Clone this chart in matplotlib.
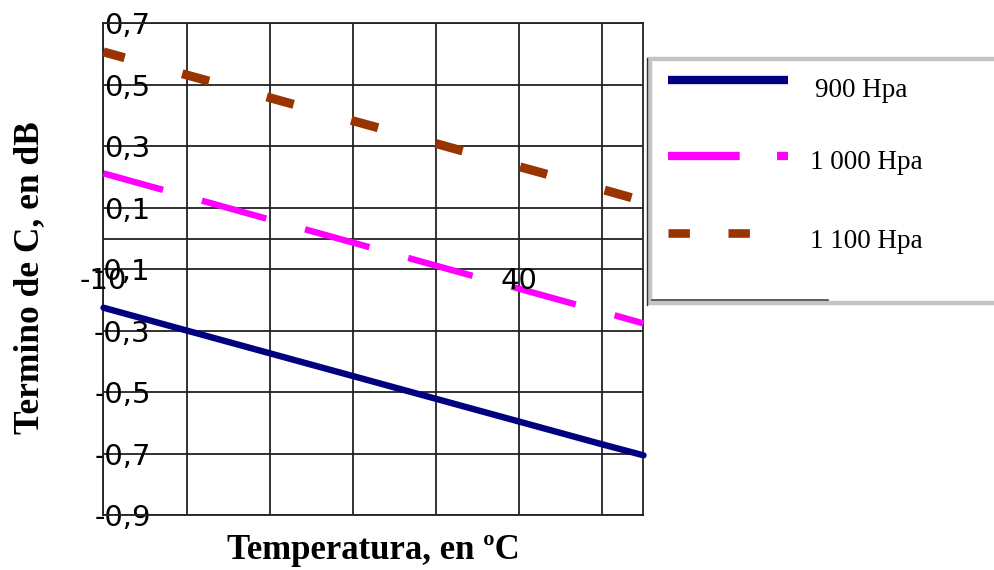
import matplotlib
matplotlib.use("Agg")
import matplotlib.pyplot as plt
from matplotlib.lines import Line2D
from matplotlib.patches import Rectangle

plt.rcParams['lines.scale_dashes'] = False

# ---------------- data ----------------
temps = [-10, 0, 10, 20, 30, 40, 50, 55]
c_900 = [-0.225, -0.299, -0.373, -0.447, -0.521, -0.595, -0.669, -0.705]
c_1000 = [0.212, 0.137, 0.062, -0.013, -0.088, -0.163, -0.238, -0.276]
c_1100 = [0.607, 0.532, 0.458, 0.383, 0.309, 0.234, 0.160, 0.122]

series_names = ['900 Hpa', '1 000 Hpa', '1 100 Hpa']
ytick_vals = [0.7, 0.5, 0.3, 0.1, 0.0, -0.1, -0.3, -0.5, -0.7, -0.9]
ytick_labels = ['0,7', '0,5', '0,3', '0,1', '', '-0,1', '-0,3', '-0,5', '-0,7', '-0,9']
xgrid_vals = [-10, 0, 10, 20, 30, 40, 50]
xlabel_vals = [-10, 40]
xlabel_texts = ['-10', '40']

# ---------------- figure ----------------
W, H = 995, 570
fig = plt.figure(figsize=(W / 100, H / 100), dpi=100)
fig.patch.set_facecolor('white')


def fx(px):
    return px / W


def fy(py):
    return 1 - py / H


left, right, top, bottom = 103.5, 643.5, 23.3, 515.3
ax = fig.add_axes([fx(left), fy(bottom), (right - left) / W, (bottom - top) / H])
ax.set_xlim(-10, 55)
ax.set_ylim(-0.9, 0.7)

gridc = '#222222'
ax.set_xticks(xgrid_vals)
ax.set_xticklabels([''] * len(xgrid_vals))
ax.set_yticks(ytick_vals)
ax.set_yticklabels(ytick_labels, fontfamily='DejaVu Sans', fontsize=21)
ax.tick_params(axis='x', length=0)
ax.tick_params(axis='y', length=0, pad=-34)
ax.grid(True, color=gridc, lw=1.3)
ax.set_axisbelow(True)
for s in ax.spines.values():
    s.set_color(gridc)
    s.set_linewidth(1.3)

for xv, xt in zip(xlabel_vals, xlabel_texts):
    ax.text(xv, -0.139, xt, ha='center', va='center', fontfamily='DejaVu Sans',
            fontsize=21, zorder=6)

# series
ax.plot(temps, c_900, color='#000080', lw=4.6, solid_capstyle='round',
        clip_on=False, zorder=4)
ax.plot(temps, c_1000, color='#FF00FF', lw=4.6, linestyle=(3.6, (48.1, 29.0)),
        dash_capstyle='butt', clip_on=False, zorder=4)
ax.plot(temps, c_1100, color='#993300', lw=6.5, linestyle=(4.3, (20.1, 43.0)),
        dash_capstyle='butt', clip_on=False, zorder=4)

# axis titles
fig.text(fx(373.5), fy(559), 'Temperatura, en ºC', ha='center', va='baseline',
         fontfamily='Liberation Serif', fontweight='bold', fontsize=25)
fig.text(fx(30), fy(277.5), 'Termino de C, en dB', ha='center', va='center',
         rotation=90, fontfamily='Liberation Serif', fontweight='bold', fontsize=25.5)

# ---------------- legend ----------------
tf = fig.transFigure
fig.add_artist(Rectangle((fx(650.5), fy(303)), fx(1010) - fx(650.5), fy(59) - fy(303),
                         transform=tf, facecolor='white', edgecolor='#c4c4c4',
                         lw=3.2, zorder=10))
fig.add_artist(Line2D([fx(647.5), fx(647.5)], [fy(58), fy(305)], transform=tf,
                      color='#333333', lw=1.0, zorder=11))
fig.add_artist(Line2D([fx(652), fx(828)], [fy(300), fy(300)], transform=tf,
                      color='#444444', lw=1.2, zorder=11))

colors = ['#000080', '#FF00FF', '#993300']
styles = ['-', (0, (51.6, 26.9)), (0, (15.4, 27.8))]
lws = [6.0, 6.0, 6.2]
sample_y = [80, 155.8, 233]
text_x = [815, 810, 810]
text_base = [96.7, 169.3, 248.3]
for name, c, st, lw, sy, tx, tb in zip(series_names, colors, styles, lws,
                                        sample_y, text_x, text_base):
    fig.add_artist(Line2D([fx(668.3), fx(788.3)], [fy(sy), fy(sy)], transform=tf,
                          color=c, lw=lw, linestyle=st, solid_capstyle='butt',
                          dash_capstyle='butt', zorder=12))
    fig.text(fx(tx), fy(tb), name, ha='left', va='baseline',
             fontfamily='Liberation Serif', fontsize=19.5, zorder=12)

fig.savefig('out.png', dpi=100, facecolor='white')
